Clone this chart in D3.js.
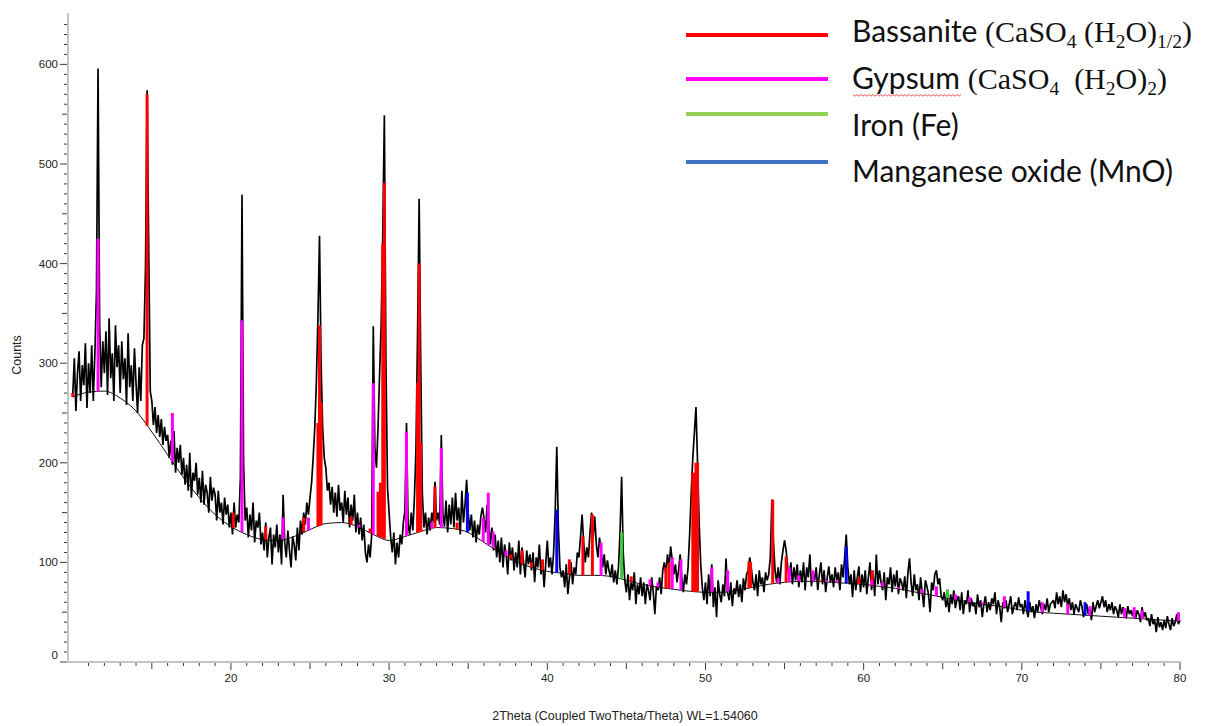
<!DOCTYPE html>
<html>
<head>
<meta charset="utf-8">
<script src="https://cdn.jsdelivr.net/npm/d3@7"></script>
<style>
  body { margin: 0; background: #fff; }
  svg { display: block; }
</style>
</head>
<body>
<div id="chart"></div>
<script>
// measured pattern: counts every 0.1 deg 2theta, from 10.0 to 80.0 (one row per degree)
var thetaStart = 10.0, thetaStep = 0.1;
var counts = [
  268, 305, 252, 290, 312, 262, 298, 278, 320, 255,   // 10
  300, 270, 318, 262, 310, 372, 596, 338, 276, 322,   // 11
  290, 332, 268, 345, 285, 310, 262, 338, 296, 318,   // 12
  270, 322, 284, 305, 258, 330, 276, 298, 262, 315,   // 13
  280, 250, 296, 262, 318, 325, 395, 574, 420, 272,   // 14
  262, 238, 256, 230, 248, 226, 244, 218, 236, 222,   // 15
  228, 205, 222, 198, 232, 190, 215, 200, 218, 188,   // 16
  205, 178, 198, 172, 210, 165, 190, 182, 200, 168,   // 17
  185, 160, 192, 158, 178, 170, 150, 186, 162, 175,   // 18
  168, 142, 172, 150, 160, 138, 165, 148, 158, 135,   // 19
  150, 128, 160, 135, 148, 140, 185, 469, 200, 142,   // 20
  155, 125, 148, 132, 160, 120, 142, 135, 150, 118,   // 21
  130, 112, 140, 105, 125, 135,  98, 128, 115, 138,   // 22
  110, 128,  98, 168, 120, 105, 132, 112,  95, 126,   // 23
  118, 102, 135, 112, 142, 128, 150, 138, 160, 148,   // 24
  165, 180, 205, 235, 280, 345, 428, 300, 235, 205,   // 25
  195, 172, 180, 158, 176, 150, 170, 146, 178, 152,   // 26
  160, 140, 172, 148, 165, 135, 158, 142, 168, 130,   // 27
  150, 128, 145, 122, 138, 110, 100, 118, 105, 128,   // 28
  337, 215, 195, 235, 290, 340, 430, 549, 300, 175,   // 29
  150, 125, 110, 130,  98, 120, 105, 128, 118, 140,   // 30
  152, 240, 138, 128, 150, 132, 165, 215, 330, 465,   // 31
  300, 170, 135, 150, 128, 145, 132, 150, 140, 181,   // 32
  142, 150, 138, 228, 148, 136, 162, 130, 158, 138,   // 33
  165, 135, 170, 142, 155, 128, 172, 140, 158, 183,   // 34
  150, 132, 148, 125, 142, 120, 138, 128, 146, 155,   // 35
  145, 130, 158, 140, 118, 135, 112, 128, 105, 122,   // 36
  100, 125,  95, 118, 108,  88, 120, 102, 115,  92,   // 37
  110,  95, 122,  88, 115, 100,  85, 112,  98, 108,   // 38
   92, 110,  80, 105,  95, 118,  88, 102,  75,  98,   // 39
  122,  95, 105,  88, 110, 150, 216, 135,  95,  85,   // 40
   92,  75,  98,  68,  85, 100,  78,  95,  88, 110,   // 41
  105, 125, 148, 120, 100, 115, 105, 130, 150, 125,   // 42
  146, 118, 105, 125, 112,  95, 108,  88, 102,  92,   // 43
   85,  98,  80,  92,  78,  95, 130, 186, 110,  82,   // 44
   70,  88,  62,  80,  72,  90,  58,  78,  68,  85,   // 45
   66,  80,  58,  78,  72,  62,  85,  70,  48,  76,   // 46
   72,  85,  68,  92, 100,  88, 108,  95, 116, 102,   // 47
   88,  98,  80,  92, 108,  85,  70,  88,  78,  95,   // 48
  128, 170, 205, 230, 256, 200, 140,  98,  75,  62,   // 49
   80,  58,  88,  66,  98,  55,  75,  45,  82,  68,   // 50
   60,  78,  66, 104,  70,  62,  80,  56,  74,  68,   // 51
   82,  65,  78,  60,  84,  72,  88,  92, 105,  94,   // 52
   80,  72,  88,  66,  92,  78,  85,  70,  90,  82,   // 53
   88, 105, 163, 120,  92,  80,  95,  78, 100, 112,   // 54
  122, 112,  95,  85, 100,  78,  95,  82,  98,  75,   // 55
   92,  80, 100,  72,  95,  85, 108,  76,  90,  82,   // 56
   95,  72,  88, 100,  78,  92,  70,  85,  96,  80,   // 57
   88,  75,  95,  82,  90,  72,  98,  85, 105, 128,   // 58
   95,  78,  88,  65,  92,  72,  85,  96,  70,  88,   // 59
   75,  92,  68,  85, 100,  72,  88,  66, 108,  78,   // 60
   92,  80,  72,  90,  62,  85,  78,  95,  70,  88,   // 61
   76,  92,  68,  84,  80,  72,  86,  64,  90, 104,   // 62
   80,  66,  88,  72,  78,  62,  85,  70,  55,  82,   // 63
   76,  68,  50,  80,  72,  88,  92,  78,  84,  66,   // 64
   62,  70,  55,  64,  50,  68,  58,  72,  54,  63,   // 65
   66,  52,  70,  48,  62,  58,  72,  50,  64,  56,   // 66
   60,  48,  68,  55,  62,  45,  58,  66,  50,  60,   // 67
   52,  64,  58,  70,  48,  62,  55,  40,  60,  54,   // 68
   62,  50,  58,  66,  48,  56,  60,  52,  65,  55,   // 69
   58,  48,  62,  52,  45,  60,  50,  56,  44,  58,   // 70
   50,  62,  55,  48,  58,  52,  64,  50,  58,  60,   // 71
   62,  54,  70,  58,  66,  55,  72,  60,  68,  56,   // 72
   64,  52,  60,  48,  58,  54,  50,  62,  56,  45,   // 73
   52,  58,  48,  55,  42,  60,  50,  56,  62,  54,   // 74
   60,  66,  55,  62,  50,  58,  52,  60,  48,  56,   // 75
   52,  45,  58,  48,  55,  50,  44,  56,  48,  52,   // 76
   46,  54,  44,  52,  48,  40,  55,  45,  50,  42,   // 77
   44,  36,  48,  38,  42,  30,  45,  35,  40,  32,   // 78
   42,  34,  46,  38,  32,  44,  36,  40,  48,  38,   // 79
   42                                                // 80
];

// fitted background, one value per degree
var bgTheta = d3.range(10, 81);
var bgCounts = [266, 271, 272, 265, 252, 231, 208, 185, 165, 148,
                136, 128, 123, 122, 126, 133, 139, 140, 136, 128,
                122, 126, 131, 135, 134, 130, 120, 110, 101,  95,
                 91,  89,  87,  87,  86,  82,  78,  75,  73,  71,
                 70,  70,  72,  75,  78,  80,  81,  81,  80,  79,
                 78,  76,  74,  71,  68,  65,  62,  59,  57,  55,
                 52,  50,  49,  48,  47,  46,  45,  44,  43,  42, 41];

// phase sticks: [2theta, top in counts]
var bassanite = [[10.0, 270], [14.7, 570], [20.15, 150], [22.2, 136], [24.6, 145],
  [25.5, 240], [25.6, 338], [25.7, 260], [27.6, 146], [28.8, 134], [29.3, 171],
  [29.45, 180], [29.6, 420], [29.7, 481], [31.8, 280], [31.9, 400], [32.0, 220],
  [32.9, 176], [34.3, 140], [37.7, 108], [38.4, 112], [39.0, 100], [39.7, 103],
  [41.4, 103], [42.25, 126], [42.85, 148], [45.3, 86], [47.5, 95], [47.7, 100],
  [49.2, 190], [49.3, 190], [49.4, 200], [49.5, 200], [52.75, 101], [52.85, 100],
  [54.25, 163], [55.1, 106], [57.2, 82], [59.7, 85], [60.55, 92]];
var gypsum = [[11.6, 425], [16.3, 250], [20.7, 343], [23.3, 145], [24.9, 145],
  [28.1, 138], [29.0, 280], [31.1, 231], [32.7, 140], [33.3, 215], [35.95, 145],
  [36.27, 170], [36.58, 131], [37.4, 112], [43.4, 120], [46.5, 83], [47.0, 80],
  [47.9, 105], [48.45, 103], [50.4, 95], [51.4, 92], [54.6, 84], [55.3, 95],
  [55.9, 87], [56.8, 92], [57.65, 82], [58.3, 82], [60.5, 82], [61.2, 80],
  [62.2, 75], [63.7, 73], [64.6, 76], [65.8, 68], [66.7, 65], [67.5, 60],
  [68.9, 66], [71.3, 60], [72.9, 58], [74.3, 56], [76.5, 54], [77.1, 55],
  [77.6, 52], [79.9, 50]];
var iron = [[44.7, 130], [65.3, 73]];
var mno = [[34.95, 170], [40.6, 153], [58.9, 116], [70.4, 71], [74.0, 60]];

var xTicks = [20, 30, 40, 50, 60, 70, 80];
var yTicks = [0, 100, 200, 300, 400, 500, 600];

var W = 1217, H = 726;
var svg = d3.select("#chart").append("svg")
  .attr("width", W).attr("height", H)
  .style("font-family", "'Liberation Sans', Arial, sans-serif");

var x = d3.scaleLinear().domain([9.7, 80]).range([68, 1180]);
var y = d3.scaleLinear().domain([0, 650]).range([662, 14.6]);
var bg = d3.scaleLinear().domain(bgTheta).range(bgCounts);

// axes
var axisCol = "#c4c4c4", tickCol = "#3a3a3a";
svg.append("line").attr("x1", 68).attr("x2", 68).attr("y1", 13).attr("y2", 663)
  .attr("stroke", axisCol).attr("stroke-width", 2);
svg.append("line").attr("x1", 67).attr("x2", 1181).attr("y1", 662).attr("y2", 662)
  .attr("stroke", axisCol).attr("stroke-width", 2);

d3.range(0, 650, 10).forEach(function(v) {
  var len = v % 100 === 0 ? 7 : (v % 50 === 0 ? 5 : 3);
  svg.append("line").attr("x1", 67 - len).attr("x2", 67)
    .attr("y1", y(v)).attr("y2", y(v))
    .attr("stroke", tickCol).attr("stroke-width", 1);
});
svg.selectAll(".ylab").data(yTicks).enter().append("text")
  .attr("x", 58).attr("y", function(d) { return d === 0 ? y(d) - 3 : y(d) + 4; })
  .attr("text-anchor", "end").attr("font-size", 11.5).attr("fill", "#222")
  .text(function(d) { return d; });

d3.range(11, 81, 1).forEach(function(t) {
  var len = t % 10 === 0 ? 7 : (t % 5 === 0 ? 6 : 3);
  svg.append("line").attr("x1", x(t)).attr("x2", x(t))
    .attr("y1", 663).attr("y2", 663 + len)
    .attr("stroke", tickCol).attr("stroke-width", 1);
});
svg.selectAll(".xlab").data(xTicks).enter().append("text")
  .attr("x", function(d) { return x(d); }).attr("y", 682)
  .attr("text-anchor", "middle").attr("font-size", 11.5).attr("fill", "#222")
  .text(function(d) { return d; });

svg.append("text").attr("transform", "translate(21,355) rotate(-90)")
  .attr("text-anchor", "middle").attr("font-size", 12.5).attr("fill", "#222")
  .text("Counts");
svg.append("text").attr("x", 625).attr("y", 720)
  .attr("text-anchor", "middle").attr("font-size", 12.5).attr("fill", "#222")
  .text("2Theta (Coupled TwoTheta/Theta) WL=1.54060");

// background curve
svg.append("path").datum(bgTheta)
  .attr("fill", "none").attr("stroke", "#111").attr("stroke-width", 1)
  .attr("d", d3.line().curve(d3.curveMonotoneX)
    .x(function(t) { return x(t); })
    .y(function(t, i) { return y(bgCounts[i]); }));

// measured trace
svg.append("path").datum(counts)
  .attr("fill", "none").attr("stroke", "#000").attr("stroke-width", 1.7)
  .attr("stroke-linejoin", "bevel")
  .attr("d", d3.line()
    .x(function(d, i) { return x(thetaStart + i * thetaStep); })
    .y(function(d) { return y(d); }));

// phase sticks
function sticks(list, color) {
  svg.append("g").selectAll("line").data(list).enter().append("line")
    .attr("x1", function(d) { return x(d[0]); })
    .attr("x2", function(d) { return x(d[0]); })
    .attr("y1", function(d) { return y(bg(d[0])); })
    .attr("y2", function(d) { return y(d[1]); })
    .attr("stroke", color).attr("stroke-width", 3);
}
sticks(bassanite, "#ff0000");
sticks(gypsum, "#ff00ff");
sticks(iron, "#33cc33");
sticks(mno, "#0000ff");

// legend
var legendColors = ["#ff0000", "#ff00ff", "#92d050", "#4472c4"];
var legendY = [35, 79, 114, 162];
var serif = "'Liberation Serif', 'Times New Roman', serif";
var sans = "Lato, 'Open Sans', sans-serif";
legendColors.forEach(function(c, i) {
  svg.append("line").attr("x1", 686).attr("x2", 828)
    .attr("y1", legendY[i]).attr("y2", legendY[i])
    .attr("stroke", c).attr("stroke-width", 4);
});

function legendText(yy, parts) {
  var t = svg.append("text").attr("x", 852).attr("y", yy).attr("fill", "#111");
  parts.forEach(function(p) {
    t.append("tspan")
      .attr("font-family", p.f).attr("font-size", p.sub ? 19.5 : 30)
      .attr("baseline-shift", p.sub ? "-6" : null)
      .style("white-space", "pre")
      .text(p.s);
  });
  return t;
}
legendText(42, [
  {s: "Bassanite ", f: sans}, {s: "(CaSO", f: serif}, {s: "4", f: serif, sub: 1},
  {s: " (H", f: serif}, {s: "2", f: serif, sub: 1}, {s: "O)", f: serif},
  {s: "1/2", f: serif, sub: 1}, {s: ")", f: serif}]);
legendText(89, [
  {s: "Gypsum ", f: sans}, {s: "(CaSO", f: serif}, {s: "4", f: serif, sub: 1},
  {s: "\u00a0\u00a0(H", f: serif}, {s: "2", f: serif, sub: 1}, {s: "O)", f: serif},
  {s: "2", f: serif, sub: 1}, {s: ")", f: serif}]);
legendText(136, [{s: "Iron (Fe)", f: sans}]);
legendText(182, [{s: "Manganese oxide (MnO)", f: sans}]);

// spell-check squiggle under "Gypsum"
var sq = d3.range(0, 55).map(function(i) { return [853 + i * 2, 95 + (i % 2 ? 1.2 : -0.4)]; });
svg.append("path").attr("d", d3.line()(sq))
  .attr("fill", "none").attr("stroke", "#e03030").attr("stroke-width", 0.8);
</script>
</body>
</html>
